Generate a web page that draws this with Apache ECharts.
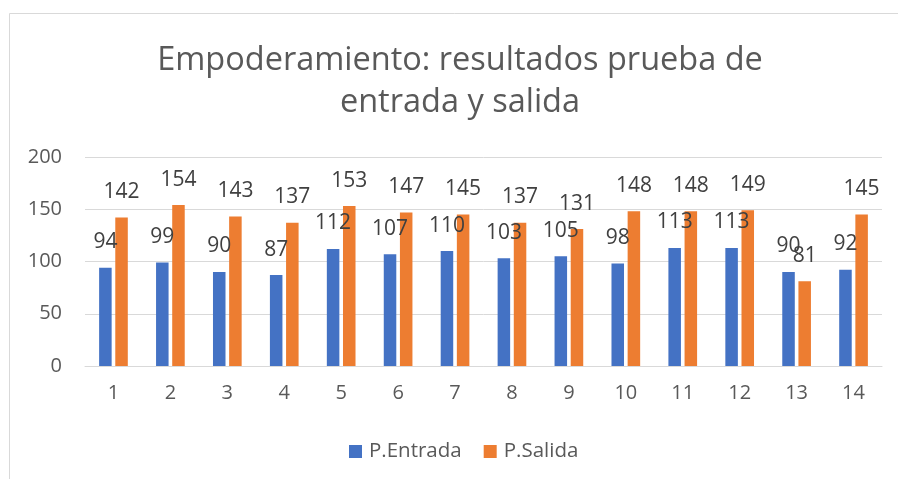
<!DOCTYPE html>
<html>
<head>
<meta charset="utf-8">
<script src="https://cdn.jsdelivr.net/npm/echarts@6/dist/echarts.min.js"></script>
<style>html,body{margin:0;padding:0;background:#fff}#c{width:898px;height:479px}</style>
</head>
<body>
<div id="c"></div>
<script>
const titleText = 'Empoderamiento: resultados prueba de\nentrada y salida';
const categories = ['1','2','3','4','5','6','7','8','9','10','11','12','13','14'];
const seriesNames = ['P.Entrada', 'P.Salida'];
const entrada = [94, 99, 90, 87, 112, 107, 110, 103, 105, 98, 113, 113, 90, 92];
const salida = [142, 154, 143, 137, 153, 147, 145, 137, 131, 148, 148, 149, 81, 145];
const yTicks = [0, 50, 100, 150, 200];

const FONT = '"Open Sans", sans-serif';
const chart = echarts.init(document.getElementById('c'), null, {renderer: 'canvas'});
const labelCfg = {show: true, position: 'top', distance: 15, color: '#404040', fontSize: 21, fontFamily: FONT};
chart.setOption({
  animation: false,
  backgroundColor: '#ffffff',
  color: ['#4472C4', '#ED7D31'],
  title: {
    text: titleText,
    left: 460,
    top: 40,
    padding: 0,
    textAlign: 'center',
    textStyle: {fontFamily: FONT, fontSize: 32.5, fontWeight: 'normal', color: '#595959', lineHeight: 42}
  },
  graphic: [{
    type: 'rect', silent: true,
    shape: {x: 9.5, y: 13.5, width: 1000, height: 1000},
    style: {fill: 'none', stroke: '#d9d9d9', lineWidth: 1}
  }],
  legend: {
    data: seriesNames,
    left: 344, top: 436,
    itemWidth: 13, itemHeight: 13, itemGap: 22,
    icon: 'rect',
    textStyle: {fontFamily: FONT, fontSize: 20.5, color: '#595959', padding: [0, 0, 0, 2]}
  },
  grid: {left: 85, right: 16, top: 157, bottom: 113, containLabel: false},
  xAxis: {
    type: 'category', data: categories,
    axisLine: {show: true, lineStyle: {color: '#d9d9d9', width: 1}},
    axisTick: {show: false},
    axisLabel: {color: '#595959', fontSize: 20, fontFamily: FONT, margin: 17}
  },
  yAxis: {
    type: 'value', min: yTicks[0], max: yTicks[yTicks.length - 1], interval: 50,
    axisLine: {show: false}, axisTick: {show: false},
    splitLine: {lineStyle: {color: '#d9d9d9', width: 1}},
    axisLabel: {color: '#595959', fontSize: 20, fontFamily: FONT, margin: 23}
  },
  series: [
    {name: seriesNames[0], type: 'bar', data: entrada, barWidth: '22%', barGap: '29%', label: labelCfg},
    {name: seriesNames[1], type: 'bar', data: salida, barWidth: '22%', barGap: '29%', label: labelCfg}
  ]
});
</script>
</body>
</html>
